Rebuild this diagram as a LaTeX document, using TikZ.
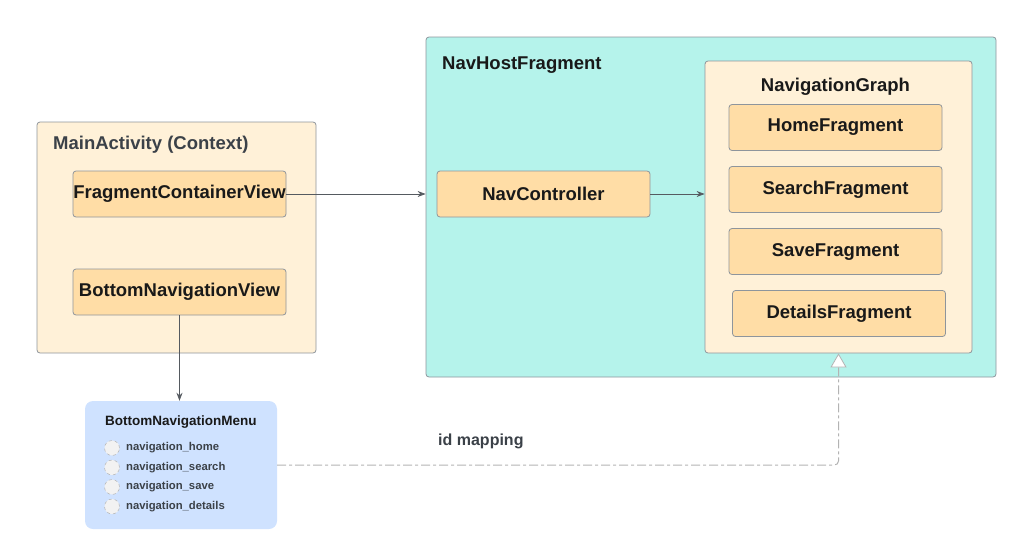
\documentclass[tikz,border=0pt]{standalone}
\usepackage{fontspec}
\setmainfont{Liberation Sans}
\usetikzlibrary{arrows.meta}
\definecolor{cream}{HTML}{FFF1D8}
\definecolor{orangebox}{HTML}{FFDDA6}
\definecolor{teal}{HTML}{B5F3EB}
\definecolor{bluebox}{HTML}{CFE2FF}
\definecolor{bordergray}{HTML}{8E959C}
\definecolor{titlegray}{HTML}{3B4148}
\definecolor{linegray}{HTML}{555A60}
\definecolor{dashgray}{HTML}{B3B3B3}
\tikzset{
  container/.style={draw=bordergray, line width=0.8pt, rounded corners=3pt, inner sep=0pt},
  fragbox/.style={draw=bordergray, line width=0.8pt, fill=orangebox, rounded corners=3pt,
     minimum width=213pt, minimum height=46pt, inner sep=0pt, font=\fontsize{18.5}{21}\selectfont\bfseries, text=black!90},
  titletext/.style={anchor=west, inner sep=0pt, font=\fontsize{18.5}{20}\selectfont\bfseries, text=titlegray},
  itemtext/.style={anchor=west, inner sep=0pt, font=\fontsize{11.3}{13}\selectfont\bfseries, text=titlegray},
  radio/.style={circle, draw=dashgray, dashed, line width=0.5pt, fill=black!5, minimum size=15pt, inner sep=0pt},
  conn/.style={draw=linegray, line width=0.8pt, -{Stealth[length=8pt, width=6pt]}},
}
\begin{document}
\begin{tikzpicture}[x=1pt, y=-1pt]
\useasboundingbox (0,0) rectangle (1020,544);
% Main activity
\node[container, fill=cream, minimum width=279pt, minimum height=231pt] (main) at (176.5,237.5) {};
\node[titletext] (maintitle) at (53,145) {MainActivity (Context)};
\node[fragbox] (fcv) at (179.5,194) {FragmentContainerView};
\node[fragbox] (bnv) at (179.5,292) {BottomNavigationView};
% NavHost
\node[container, fill=teal, minimum width=570pt, minimum height=340pt] (navhost) at (711,207) {};
\node[titletext, text=black!90] (navhosttitle) at (442,65) {NavHostFragment};
\node[fragbox] (navctrl) at (543.5,194) {NavController};
\node[container, fill=cream, minimum width=267pt, minimum height=292pt] (graph) at (838.5,207) {};
\node[anchor=center, inner sep=0pt, font=\fontsize{18.5}{20}\selectfont\bfseries, text=black!90] (graphtitle) at (835.5,87) {NavigationGraph};
\node[fragbox] (home) at (835.5,127.5) {HomeFragment};
\node[fragbox] (search) at (835.5,189.5) {SearchFragment};
\node[fragbox] (save) at (835.5,251.5) {SaveFragment};
\node[fragbox] (details) at (839,313.5) {DetailsFragment};
% Bottom navigation menu
\node[fill=bluebox, rounded corners=8pt, minimum width=192pt, minimum height=128pt, inner sep=0pt] (menu) at (181,465) {};
\node[anchor=west, inner sep=0pt, font=\fontsize{13.5}{15}\selectfont\bfseries, text=black!90] (menutitle) at (105,422) {BottomNavigationMenu};
\node[radio] (r1) at (112,448) {};
\node[radio] (r2) at (112,467.5) {};
\node[radio] (r3) at (112,487) {};
\node[radio] (r4) at (112,506.5) {};
\node[itemtext] (t1) at (126,448) {navigation\_home};
\node[itemtext] (t2) at (126,467.5) {navigation\_search};
\node[itemtext] (t3) at (126,487) {navigation\_save};
\node[itemtext] (t4) at (126,506.5) {navigation\_details};
% id mapping label
\node[anchor=west, inner sep=0pt, font=\fontsize{16}{18}\selectfont\bfseries, text=titlegray] (idmap) at (438,441) {id mapping};
% connectors
\draw[conn] (fcv.east) -- (fcv.east -| navhost.west);
\draw[conn] (navctrl.east) -- (navctrl.east -| graph.west);
\draw[conn] (bnv.south) -- (bnv.south |- menu.north);
\draw[draw=dashgray, line width=1pt, dash pattern=on 9pt off 3pt on 3pt off 3pt, rounded corners=4pt,
  -{Triangle[open, length=14pt, width=16pt, fill=white, line width=0.8pt]}]
  (menu.east) -| (graph.south);
\end{tikzpicture}
\end{document}
